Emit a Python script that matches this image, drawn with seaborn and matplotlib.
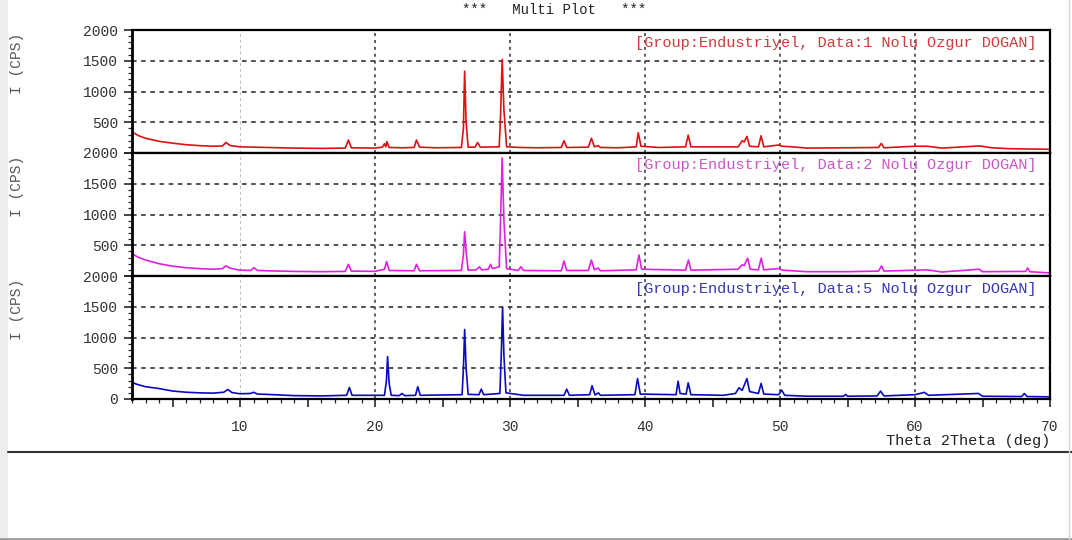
import matplotlib
matplotlib.use("Agg")
import matplotlib.pyplot as plt
import seaborn as sns
from matplotlib.ticker import MultipleLocator, FuncFormatter
from matplotlib.lines import Line2D
from matplotlib.patches import Rectangle

# diffraction patterns (2theta in deg, intensity in CPS)
red_x = [2.0, 2.1, 2.5, 3.0, 4.0, 5.0, 6.0, 7.0, 8.0, 8.7, 8.95, 9.3, 10.0, 11.0, 12.0, 14.0, 16.0,
         17.8, 18.03, 18.25, 20.0, 20.55, 20.7, 20.8, 20.88, 21.05, 22.0, 22.9, 23.07, 23.3, 24.5,
         26.4, 26.55, 26.64, 26.75, 26.9, 27.4, 27.6, 27.8, 29.2, 29.3, 29.42, 29.55, 29.75, 30.8,
         32.0, 33.8, 34.0, 34.2, 35.8, 36.03, 36.25, 36.53, 36.7, 38.0, 39.35, 39.5, 39.7, 41.0,
         43.0, 43.2, 43.4, 45.82, 46.9, 47.2, 47.35, 47.55, 47.75, 48.4, 48.6, 48.8, 49.9, 50.15,
         50.9, 52.0, 55.0, 57.3, 57.5, 57.7, 60.0, 60.9, 62.0, 64.75, 65.7, 67.0, 70.0]
red_y = [420, 330, 280, 240, 190, 160, 135, 120, 110, 115, 170, 120, 100, 95, 90, 80, 75,
         80, 210, 85, 80, 95, 150, 100, 185, 90, 85, 90, 210, 95, 85,
         90, 400, 1330, 500, 95, 95, 170, 95, 100, 600, 1520, 700, 100, 90,
         85, 90, 200, 90, 95, 240, 100, 120, 90, 85, 100, 330, 110, 90,
         100, 290, 100, 100, 100, 200, 180, 270, 110, 100, 280, 100, 130, 110,
         100, 80, 85, 90, 155, 85, 110, 110, 80, 115, 85, 70, 60]

mag_x = [2.0, 2.1, 2.5, 3.0, 4.0, 5.0, 6.0, 7.0, 8.0, 8.7, 8.95, 9.3, 10.0, 10.8, 11.03, 11.3,
         12.0, 14.0, 16.0, 17.8, 18.03, 18.25, 20.0, 20.7, 20.86, 21.05, 22.9, 23.07, 23.3,
         26.4, 26.55, 26.64, 26.75, 26.9, 27.5, 27.74, 27.9, 28.4, 28.55, 28.7, 29.2, 29.3, 29.42,
         29.55, 29.75, 30.6, 30.81, 31.0, 33.8, 34.0, 34.2, 35.8, 36.03, 36.25, 36.53, 36.7,
         39.35, 39.55, 39.75, 43.0, 43.22, 43.4, 46.9, 47.18, 47.35, 47.6, 47.8, 48.4, 48.61,
         48.8, 49.9, 50.2, 52.0, 55.0, 57.3, 57.52, 57.7, 60.9, 62.0, 64.75, 65.0, 68.2, 68.34,
         68.5, 70.0]
mag_y = [520, 350, 300, 260, 200, 160, 135, 120, 110, 120, 165, 125, 95, 90, 135, 90,
         85, 75, 70, 75, 190, 80, 75, 110, 235, 90, 85, 190, 85,
         90, 350, 720, 400, 95, 100, 150, 100, 110, 190, 120, 150, 900, 1920,
         900, 120, 90, 150, 90, 85, 245, 90, 90, 260, 100, 130, 85,
         100, 342, 110, 95, 260, 95, 110, 180, 170, 290, 110, 100, 290,
         100, 120, 95, 70, 70, 80, 163, 80, 100, 65, 110, 70, 75, 130,
         70, 50]

blue_x = [2.0, 2.1, 2.5, 3.0, 4.0, 5.0, 6.0, 7.0, 8.0, 8.8, 9.1, 9.4, 10.0, 10.8, 11.0, 11.3,
          12.0, 14.0, 16.0, 17.9, 18.1, 18.3, 20.7, 20.85, 20.93, 21.05, 21.2, 21.8, 22.0, 22.2,
          23.0, 23.17, 23.35, 26.45, 26.55, 26.64, 26.75, 26.9, 27.7, 27.87, 28.05, 29.25, 29.35,
          29.45, 29.55, 29.7, 31.0, 34.0, 34.2, 34.4, 35.9, 36.08, 36.3, 36.55, 36.7, 39.25, 39.45,
          39.65, 42.3, 42.45, 42.6, 43.05, 43.2, 43.4, 45.8, 46.7, 46.96, 47.2, 47.55, 47.75, 48.4,
          48.6, 48.8, 49.9, 50.12, 50.35, 52.0, 54.7, 54.86, 55.0, 57.2, 57.45, 57.7, 60.0, 60.7,
          61.0, 64.7, 65.0, 67.9, 68.1, 68.3, 70.0]
blue_y = [340, 260, 230, 200, 170, 130, 110, 100, 95, 110, 155, 105, 85, 90, 110, 80,
          75, 55, 50, 60, 188, 60, 60, 300, 690, 250, 60, 55, 90, 55,
          60, 200, 60, 70, 500, 1130, 500, 75, 70, 160, 70, 90, 700,
          1490, 700, 100, 60, 60, 160, 60, 70, 215, 65, 100, 60, 70, 333,
          80, 70, 290, 90, 80, 263, 70, 60, 90, 183, 140, 333, 120, 90,
          253, 80, 70, 145, 60, 45, 45, 75, 45, 50, 129, 50, 70, 108,
          60, 90, 45, 40, 90, 40, 35]

patterns = [
    (red_x, red_y, "#e01010", "#d03a3a", "[Group:Endustriyel, Data:1 Nolu Ozgur DOGAN]"),
    (mag_x, mag_y, "#e020e0", "#c858c8", "[Group:Endustriyel, Data:2 Nolu Ozgur DOGAN]"),
    (blue_x, blue_y, "#0a0ac0", "#3838b0", "[Group:Endustriyel, Data:5 Nolu Ozgur DOGAN]"),
]

sns.set_theme(style="white")
plt.rcParams['font.family'] = ['Liberation Mono', 'DejaVu Sans Mono']

W, H = 1072, 540
fig, axes = plt.subplots(3, 1, figsize=(W / 100, H / 100), dpi=100, sharex=True)
fig.subplots_adjust(left=132 / W, right=1050 / W, top=1 - 30 / H, bottom=1 - 399 / H, hspace=0)

# window frame around the plot
fig.add_artist(Rectangle((0, 0), 8 / W, 1, transform=fig.transFigure,
                         facecolor="#ededed", edgecolor="none", zorder=0))
fig.add_artist(Line2D([8 / W, 1], [1 - 452 / H, 1 - 452 / H], color="#333333", lw=1.5))
fig.add_artist(Line2D([0, 1], [1.5 / H, 1.5 / H], color="#9a9a9a", lw=2))
fig.add_artist(Line2D([1069 / W, 1069 / W], [0, 1], color="#d6d6d6", lw=1))

for i, (ax, (xs, ys, lc, tc, label)) in enumerate(zip(axes, patterns)):
    sns.lineplot(x=xs, y=ys, ax=ax, color=lc, lw=1.2, estimator=None, sort=True)
    ax.set_xlim(2, 70)
    ax.set_ylim(0, 2000)
    ax.set_facecolor("white")

    # grid
    for yv in (500, 1000, 1500):
        ax.axhline(yv, color="#222222", lw=1.1, ls=(0, (3, 3)), zorder=0)
    for xv in (20, 30, 40, 50, 60):
        ax.axvline(xv, color="#333333", lw=1.1, ls=(0, (2, 2.5)), zorder=0)
    ax.axvline(10, color="#bbbbbb", lw=0.7, ls=(0, (3, 3)), zorder=0)

    for side in ("left", "right", "top", "bottom"):
        ax.spines[side].set_color("black")
        ax.spines[side].set_linewidth(1.6)
    ax.spines["left"].set_linewidth(2.0)

    ax.yaxis.set_major_locator(MultipleLocator(500))
    ax.yaxis.set_minor_locator(MultipleLocator(100))
    if i < 2:
        ax.yaxis.set_major_formatter(FuncFormatter(lambda v, p: "" if v == 0 else f"{int(v)}"))
    ax.tick_params(axis="y", which="major", direction="out", length=6, width=1.2,
                   pad=4, labelsize=10.5, labelcolor="#333333", left=True)
    ax.tick_params(axis="y", which="minor", direction="out", length=3, width=0.9, left=True)
    ax.set_ylabel("")
    ax.set_xlabel("")

    ax.text(0.985, 1 - 12.5 / 123, label, transform=ax.transAxes, ha="right", va="center",
            fontsize=11, color=tc)
    ax.text(-115 / 918, 1 - 33 / 123, "I (CPS)", transform=ax.transAxes, rotation=90,
            ha="center", va="center", fontsize=10.5, color="#555555", zorder=5)

bax = axes[-1]
bax.xaxis.set_major_locator(MultipleLocator(5))
bax.xaxis.set_minor_locator(MultipleLocator(1))
bax.xaxis.set_major_formatter(FuncFormatter(lambda v, p: f"{int(v)}" if v % 10 == 0 else ""))
bax.tick_params(axis="x", which="major", direction="out", length=6, width=1.2, pad=9,
                labelsize=10.5, labelcolor="#333333", bottom=True)
bax.tick_params(axis="x", which="minor", direction="out", length=3, width=0.9, bottom=True)
for ax in axes[:-1]:
    ax.tick_params(axis="x", which="both", bottom=False, labelbottom=False)

fig.text(1050 / W, 1 - 441 / H, "Theta 2Theta (deg)", ha="right", va="center",
         fontsize=11, color="#222222")
fig.text(554 / W, 1 - 10 / H, "***   Multi Plot   ***", ha="center", va="center",
         fontsize=10, color="#222222")

fig.savefig("out.png", dpi=100, facecolor="white")
